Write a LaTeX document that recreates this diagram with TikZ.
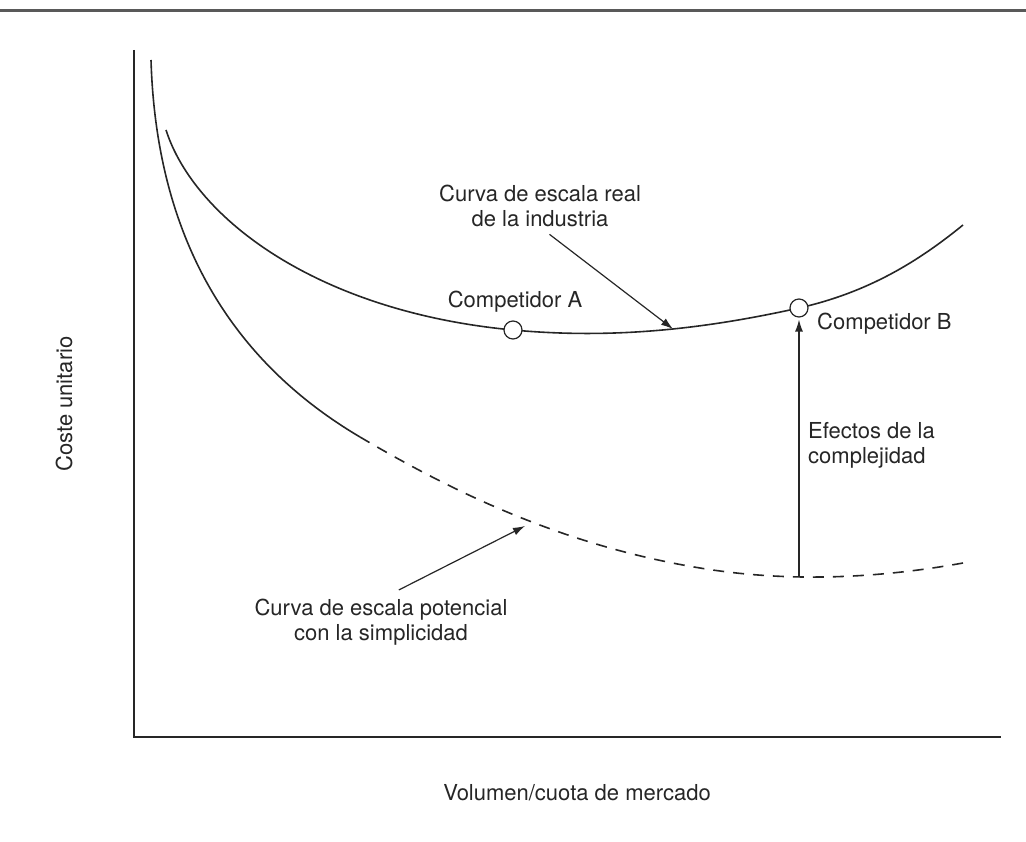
\documentclass[tikz,border=0pt]{standalone}
\usepackage{fontspec}
\setmainfont{TeX Gyre Heros}
\usetikzlibrary{arrows.meta}

\tikzset{
    curve/.style={line width=1.6pt, black!85},
    simpler/.style={curve, dash pattern=on 11pt off 9pt},
    pointer/.style={-{Latex[length=12pt,width=8pt]}, line width=1.2pt, black!85},
    firm/.style={circle, draw=black!85, fill=white, line width=1.2pt, minimum size=18pt, inner sep=0pt},
    tag/.style={inner sep=0pt, align=center, text=black!85}
}

\begin{document}
\begin{tikzpicture}[x=1pt, y=-1pt, font=\fontsize{22}{25}\selectfont]
\useasboundingbox (0,0) rectangle (1026,842);
% top rule
    \draw[line width=3pt, black!65] (0,11) -- (1026,11);
% axes
    \draw[line width=1.8pt, black!85] (134,50) -- (134,737) -- (1001,737);
% potential scale curve (solid, then dashed)
    \draw[curve] (151,60) .. controls (157,260) and (250,372) .. (360,437);
    \draw[simpler] (360,437) .. controls (450,490) and (560,545) .. (700,568)
        .. controls (790,583) and (880,578) .. (963,563);
% real industry curve
    \draw[curve] (166,130) .. controls (195,220) and (320,312) .. (513,330)
        .. controls (610,339) and (700,330) .. (799,308)
        .. controls (870,292) and (920,260) .. (963,225);
% points on the curves
    \coordinate (realtip) at (673,329);
    \coordinate (simpletip) at (525,526);
    \coordinate (gapfoot) at (799,576);
% competitors
    \node[firm] (compA) at (513,330) {};
    \node[firm] (compB) at (799,308) {};
% labels
    \node[tag, anchor=base] (compAlbl) at (515,308) {Competidor A};
    \node[tag, anchor=base west] (compBlbl) at (817,330) {Competidor B};
    \node[tag] (reallbl) at (540,206) {Curva de escala real\\de la industria};
    \node[tag, anchor=north] (simplelbl) at (381,599) {Curva de escala potencial\\con la simplicidad};
    \node[tag, anchor=north west, align=left] (gaplbl) at (808,422) {Efectos de la\\complejidad};
    \node[tag, anchor=base] (xlbl) at (577,800) {Volumen/cuota de mercado};
    \node[tag, rotate=90] (ylbl) at (64,404) {Coste unitario};
% arrows
    \draw[pointer, shorten <=12pt] (reallbl.south) -- (realtip);
    \draw[pointer, shorten <=20pt] (simplelbl.north) -- (simpletip);
    \draw[pointer, shorten >=2pt] (gapfoot) -- (compB.south);
\end{tikzpicture}
\end{document}
